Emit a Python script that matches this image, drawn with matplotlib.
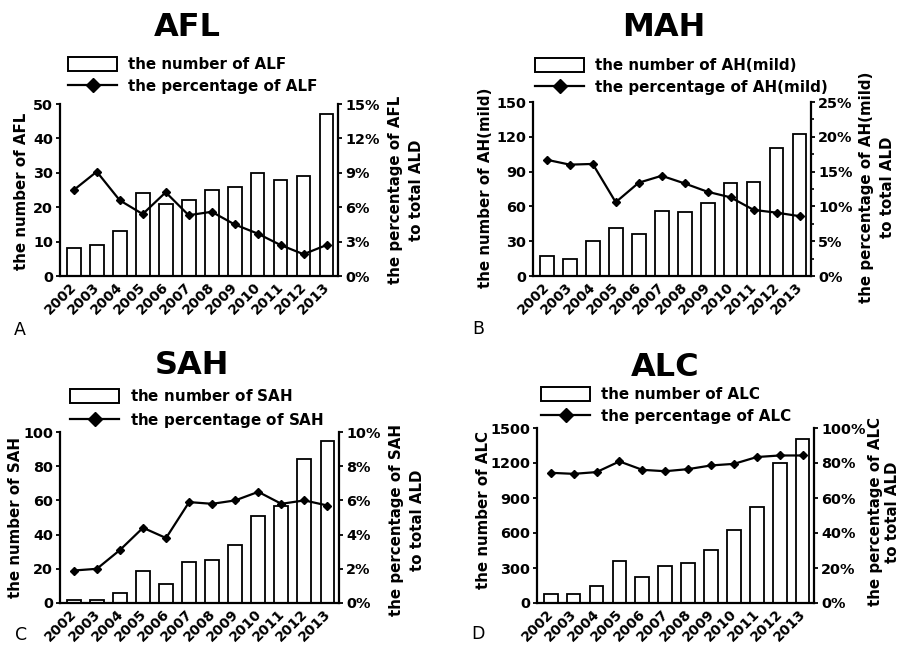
import matplotlib
matplotlib.use("Agg")
import matplotlib.pyplot as plt
import matplotlib.transforms as mtransforms
from matplotlib.patches import Patch
from matplotlib.lines import Line2D
from matplotlib.ticker import FuncFormatter, MultipleLocator

plt.rcParams['font.family'] = ['DejaVu Sans']
plt.rcParams['font.weight'] = 'bold'
plt.rcParams['mathtext.fontset'] = 'dejavusans'

years = ['2002', '2003', '2004', '2005', '2006', '2007',
         '2008', '2009', '2010', '2011', '2012', '2013']

# Acute liver failure
afl_counts = [8, 9, 13, 24, 21, 22, 25, 26, 30, 28, 29, 47]
afl_pct = [7.5, 9.1, 6.6, 5.4, 7.3, 5.3, 5.6, 4.5, 3.7, 2.7, 1.9, 2.7]

# Mild alcoholic hepatitis
mah_counts = [17, 15, 30, 41, 36, 56, 55, 63, 80, 81, 110, 122]
mah_pct = [16.7, 16.0, 16.1, 10.6, 13.4, 14.4, 13.3, 12.1, 11.3, 9.5, 9.1, 8.6]

# Severe alcoholic hepatitis
sah_counts = [2, 2, 6, 19, 11, 24, 25, 34, 51, 57, 84, 95]
sah_pct = [1.9, 2.0, 3.1, 4.4, 3.8, 5.9, 5.8, 6.0, 6.5, 5.8, 6.0, 5.7]

# Alcoholic liver cirrhosis
alc_counts = [80, 75, 150, 360, 224, 315, 344, 453, 625, 820, 1199, 1410]
alc_pct = [74.4, 73.8, 74.8, 80.9, 76.1, 75.3, 76.5, 78.6, 79.5, 83.4, 84.3, 84.3]

W, H = 899, 647
fig = plt.figure(figsize=(W / 100, H / 100), dpi=100)


def px_axes(left, top, right, bottom):
    return fig.add_axes([left / W, 1 - bottom / H, (right - left) / W, (bottom - top) / H])


def panel(box, title, title_xy, counts, pct, name, ymax, ystep, pmax, pstep,
          left_label, right_label, left_xy, right_xy, legend_xy, letter, letter_xy,
          minor_pct=None, right_spacing=1.45):
    ax = px_axes(*box)
    x = list(range(len(years)))
    ax.bar(x, counts, width=0.6, color='white', edgecolor='black', linewidth=1.3, zorder=2)
    ax.set_xlim(-0.6, 11.5)
    ax.set_ylim(0, ymax)
    ax.yaxis.set_major_locator(MultipleLocator(ystep))
    ax.spines['top'].set_visible(False)
    ax.spines['right'].set_visible(False)
    for s in ('left', 'bottom'):
        ax.spines[s].set_linewidth(1.6)
    ax.tick_params(axis='y', direction='out', length=3, width=1.3, labelsize=10.4, pad=2)
    ax.set_xticks(x)
    ax.set_xticklabels(years, rotation=45, ha='right', va='top', fontsize=10)
    ax.tick_params(axis='x', length=0, pad=3)
    offset = mtransforms.ScaledTranslation(6 / 100, 0, fig.dpi_scale_trans)
    for lab in ax.get_xticklabels():
        lab.set_transform(lab.get_transform() + offset)

    ax2 = ax.twinx()
    ax2.plot(x, pct, color='black', linewidth=1.6, marker='D', markersize=4.5, zorder=3)
    ax2.set_ylim(0, pmax)
    ax2.yaxis.set_major_locator(MultipleLocator(pstep))
    ax2.yaxis.set_major_formatter(FuncFormatter(lambda v, p: f"{v:.0f}%"))
    if minor_pct:
        ax2.yaxis.set_minor_locator(MultipleLocator(minor_pct))
        ax2.tick_params(axis='y', which='minor', direction='out', length=2.5, width=1.2)
    for s in ('top', 'left', 'bottom'):
        ax2.spines[s].set_visible(False)
    ax2.spines['right'].set_linewidth(1.6)
    ax2.tick_params(axis='y', direction='out', length=3, width=1.3, labelsize=10.4, pad=2)

    fig.text(title_xy[0] / W, 1 - title_xy[1] / H, title, fontsize=23,
             fontweight='bold', ha='center', va='center')
    fig.text(left_xy[0] / W, 1 - left_xy[1] / H, left_label, fontsize=10.8,
             fontweight='bold', rotation=90, ha='center', va='center')
    fig.text(right_xy[0] / W, 1 - right_xy[1] / H, right_label, fontsize=10.8,
             fontweight='bold', rotation=90, ha='center', va='center',
             multialignment='center', linespacing=right_spacing)
    fig.text(letter_xy[0] / W, 1 - letter_xy[1] / H, letter, fontsize=12.5,
             fontweight='normal', ha='center', va='center')

    handles = [Patch(facecolor='white', edgecolor='black', linewidth=1.4),
               Line2D([], [], color='black', linewidth=1.6, marker='D', markersize=7)]
    labels = [f"the number of {name}", f"the percentage of {name}"]
    ax.legend(handles, labels, loc='upper left',
              bbox_to_anchor=(legend_xy[0] / W, 1 - legend_xy[1] / H),
              bbox_transform=fig.transFigure, frameon=False, borderpad=0,
              borderaxespad=0, handlelength=3.25, handleheight=1.0,
              handletextpad=0.7, labelspacing=0.45,
              prop={'size': 10.9, 'weight': 'bold'})
    return ax, ax2


panel((60, 104, 338, 276), 'AFL', (187, 28), afl_counts, afl_pct, 'ALF',
      50, 10, 15, 3, 'the number of AFL',
      'the percentage of AFL\nto total ALD', (22, 191), (406, 190),
      (68, 57), 'A', (20, 330))

panel((533, 102, 811, 276), 'MAH', (664, 28), mah_counts, mah_pct, 'AH(mild)',
      150, 30, 25, 5, 'the number of AH(mild)',
      'the percentage of AH(mild)\nto total ALD', (485, 188), (877, 187),
      (535, 58), 'B', (478, 329), minor_pct=2.5)

panel((60, 432, 339, 603), 'SAH', (192, 366), sah_counts, sah_pct, r'$\mathrm{SAH}$',
      100, 20, 10, 2, 'the number of SAH',
      'the percentage of SAH\nto total ALD', (16, 517), (407, 520),
      (70, 388), 'C', (21, 635))

panel((537, 428, 814, 603), 'ALC', (665, 368), alc_counts, alc_pct, 'ALC',
      1500, 300, 100, 20, 'the number of ALC',
      'the percentage of ALC\nto total ALD', (483, 510), (884, 512),
      (541, 387), 'D', (478, 634), right_spacing=1.12)

fig.savefig('out.png', dpi=100)
